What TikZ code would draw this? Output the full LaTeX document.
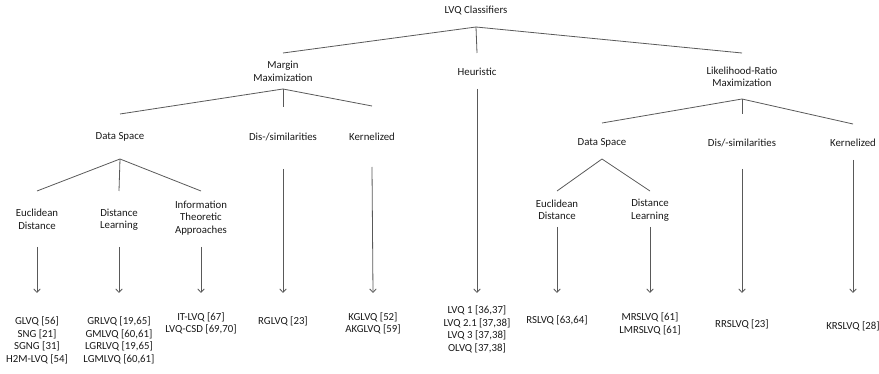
\documentclass[tikz,border=0pt]{standalone}
\usepackage{fontspec}
\setmainfont{Carlito}
\usepackage{tikz}
\usetikzlibrary{arrows.meta, positioning}

\begin{document}
\begin{tikzpicture}[x=1pt, y=-1pt,
  t/.style={align=center, inner sep=0pt, text=black!90,
    font=\fontsize{10.8}{12.5}\selectfont},
  ln/.style={draw=black!65, line width=0.8pt},
  arr/.style={ln, -{Straight Barb[length=3.5pt, width=6.5pt]}}]
  \useasboundingbox (0,0) rectangle (879,374);
  % categories
  \node[t] (root) at (476,10)   {LVQ Classifiers};
  \node[t] (mm)   at (283,71.5) {Margin\\Maximization};
  \node[t] (heur) at (477,72)   {Heuristic};
  \node[t] (lr)   at (742,77)   {Likelihood-Ratio\\Maximization};
  \node[t] (ds1)  at (120,137)  {Data Space};
  \node[t] (dis1) at (283,137)  {Dis-/similarities};
  \node[t] (ker1) at (372,137)  {Kernelized};
  \node[t] (ds2)  at (602,143)  {Data Space};
  \node[t] (dis2) at (742,143)  {Dis/-similarities};
  \node[t] (ker2) at (853,143)  {Kernelized};
  \node[t] (ed1)  at (37,219.5) {Euclidean\\Distance};
  \node[t] (dl1)  at (119,219.5){Distance\\Learning};
  \node[t] (ita)  at (201,218)  {Information\\Theoretic\\Approaches};
  \node[t] (ed2)  at (557,210)  {Euclidean\\Distance};
  \node[t] (dl2)  at (650,210)  {Distance\\Learning};
  % methods
  \node[t] (l-ed1)  at (37,340.5)  {GLVQ [56]\\SNG [21]\\SGNG [31]\\H2M-LVQ [54]};
  \node[t] (l-dl1)  at (119,340.5) {GRLVQ [19,65]\\GMLVQ [60,61]\\LGRLVQ [19,65]\\LGMLVQ [60,61]};
  \node[t] (l-ita)  at (201,323.5) {IT-LVQ [67]\\LVQ-CSD [69,70]};
  \node[t] (l-dis1) at (283,321)   {RGLVQ [23]};
  \node[t] (l-ker1) at (373,323.5) {KGLVQ [52]\\AKGLVQ [59]};
  \node[t] (l-heur) at (477,329.5) {LVQ 1 [36,37]\\LVQ 2.1 [37,38]\\LVQ 3 [37,38]\\OLVQ [37,38]};
  \node[t] (l-ed2)  at (557,320)   {RSLVQ [63,64]};
  \node[t] (l-dl2)  at (650,324)   {MRSLVQ [61]\\LMRSLVQ [61]};
  \node[t] (l-dis2) at (742,324)   {RRSLVQ [23]};
  \node[t] (l-ker2) at (853,326)   {KRSLVQ [28]};
  % tree lines
  \foreach \a/\da/\b/\db in {root/17/mm/18.5, root/17/heur/19, root/17/lr/24,
      mm/17.5/ds1/23, mm/17.5/dis1/30, mm/17.5/ker1/31,
      lr/22/ds2/20, lr/22/dis2/29, lr/22/ker2/19,
      ds1/22/ed1/28.5, ds1/22/dl1/28.5, ds1/22/ita/27,
      ds2/16/ed2/19, ds2/16/dl2/19}
    \draw[ln] ([yshift=-\da pt]\a.center) -- ([yshift=\db pt]\b.center);
  % arrows to methods
  \foreach \a/\da/\b/\db in {ed1/27.5/l-ed1/47.5, dl1/27.5/l-dl1/47.5,
      ita/29/l-ita/30.5, dis1/32/l-dis1/28, ker1/30/l-ker1/30.5,
      heur/17/l-heur/36.5, ed2/17/l-ed2/27, dl2/17/l-dl2/31,
      dis2/26/l-dis2/31, ker2/17/l-ker2/33}
    \draw[arr] ([yshift=-\da pt]\a.center) -- ([yshift=\db pt]\b.center);
\end{tikzpicture}
\end{document}
